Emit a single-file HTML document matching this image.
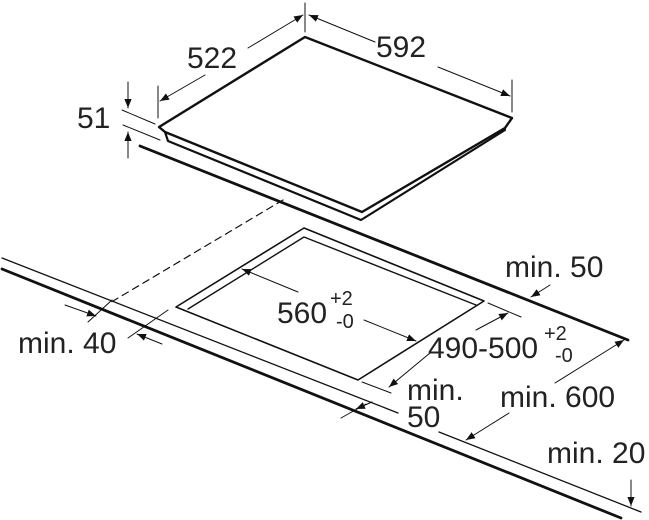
<!DOCTYPE html>
<html><head><style>html,body{margin:0;padding:0;background:#fff}svg{display:block}</style></head><body>
<svg width="649" height="520" viewBox="0 0 649 520" xmlns="http://www.w3.org/2000/svg" font-family="Liberation Sans, sans-serif" fill="#222">
<defs><marker id="a" viewBox="0 0 10 10" refX="10" refY="5" markerWidth="9" markerHeight="9" orient="auto" markerUnits="userSpaceOnUse"><path d="M0,1 L10,5 L0,9 z" fill="#111"/></marker></defs>
<g fill="none" stroke="#111" stroke-linecap="round" stroke-linejoin="round">
<path d="M305,37 L512,118 L505,128 L362,212 L165,132 L159,127 Z" stroke-width="2.4"/>
<path d="M165,132 L168,141 L361,220 L505,130" stroke-width="2.2"/>
<path d="M140,146 L628,340" stroke-width="2.8"/>
<path d="M2,258 L398,413 M439,432 L641,512" stroke-width="1.3"/>
<path d="M2,269 L621,518" stroke-width="2.8"/>
<path d="M283,200 L108,304" stroke-width="1.2" stroke-dasharray="7,5"/>
<path d="M304,228 L484,301 L358,380 L176,307 Z" stroke-width="1.6"/>
<path d="M188,309 L304,237 L476,305" stroke-width="1.4"/>
<g stroke-width="1">
<path d="M305,3 L305,32 M158,86 L158,118 M512,80 L512,112"/>
<path d="M122,110 L155,124 M123,125 L160,140"/>
<path d="M88,322 L112,300 M128,338 L168,310"/>
<path d="M488,303 L521,317 M362,382 L391,393"/>
<path d="M341,418 L366,404"/>
</g>
<g stroke-width="1" marker-end="url(#a)">
<path d="M248,48 L303,15"/><path d="M205,75 L160,101"/>
<path d="M375,42 L309,15"/><path d="M438,67 L510,96"/>
<path d="M128,82 L128,108"/><path d="M128,158 L128,132"/>
<path d="M298,292 L242,269"/><path d="M364,320 L416,341"/>
<path d="M476,330 L508,313"/><path d="M430,353 L389,387"/>
<path d="M65,305 L96,316"/><path d="M162,344 L137,334"/>
<path d="M550,285 L531,297"/>
<path d="M555,383 L624,340"/><path d="M509,413 L466,440"/>
<path d="M372,402 L356,409"/>
<path d="M631,480 L631,506"/>
</g>
</g>
<g font-size="30">
<text x="187" y="68">522</text>
<text x="376" y="57">592</text>
<text x="77" y="128">51</text>
<text x="277" y="323">560</text>
<text x="330" y="305" font-size="20">+2</text>
<text x="336" y="328" font-size="20">-0</text>
<text x="428" y="358">490-500</text>
<text x="544" y="340" font-size="20">+2</text>
<text x="555" y="362" font-size="20">-0</text>
<text x="505" y="277">min. 50</text>
<text x="18" y="353">min. 40</text>
<text x="407" y="400">min.</text>
<text x="407" y="427">50</text>
<text x="500" y="407">min. 600</text>
<text x="547" y="463">min. 20</text>
</g>
</svg>
</body></html>
